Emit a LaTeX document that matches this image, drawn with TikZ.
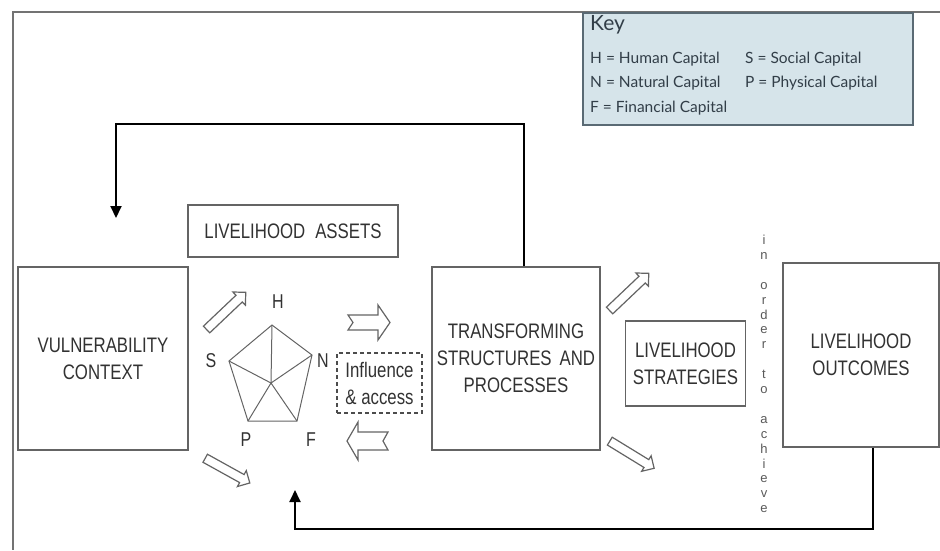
\documentclass[tikz,border=0pt]{standalone}
\usepackage{fontspec}
\setmainfont{Liberation Sans}[FakeStretch=0.8]
\newfontfamily\keyfont{Lato}
\newfontfamily\plainfont{Liberation Sans}
\usepackage{xcolor}
\usepackage{tikz}
\usetikzlibrary{arrows.meta}
\usetikzlibrary{shapes.arrows}
\definecolor{keyfill}{RGB}{214,228,234}
\definecolor{keyline}{RGB}{90,106,116}
\definecolor{keytext}{RGB}{50,62,72}
\definecolor{boxline}{RGB}{100,100,100}
\definecolor{boxtext}{RGB}{50,50,50}
\tikzset{
    tnode/.style = {align=center, inner sep=0pt, text centered},
    box/.style = {tnode, rectangle, draw=boxline, line width=1.3pt, text=boxtext, font=\fontsize{21}{27}\selectfont},
    keybox/.style = {rectangle, draw=keyline, fill=keyfill, line width=2pt},
    keyitem/.style = {anchor=base west, inner sep=0pt, text=keytext, font=\keyfont\fontsize{15.5}{18}\selectfont},
    corner/.style = {tnode, text=boxtext, font=\fontsize{20}{24}\selectfont},
    hollow/.style = {single arrow, draw=boxline, line width=1.2pt, fill=white, inner xsep=0pt, inner ysep=4pt, single arrow head extend=4.5pt},
    feedback/.style = {-{Triangle[width=11pt,length=12pt]}, draw=black, line width=2pt}
}

\begin{document}
\begin{tikzpicture}
    [x=1pt, y=-1pt]
    \useasboundingbox (0,0) rectangle (940,550);

    % frame
    \draw[black!55, line width=1.5pt] (940,12) -- (13,12) -- (13,550);

    % key
    \node[keybox, minimum width=330pt, minimum height=112pt] (key) at (748,69) {};
    \node[keyitem, font=\keyfont\fontsize{21}{24}\selectfont] (keyhead) at (590,30) {Key};
    \node[keyitem] (kh) at (590,63) {H = Human Capital};
    \node[keyitem] (ks) at (745,63) {S = Social Capital};
    \node[keyitem] (kn) at (590,87) {N = Natural Capital};
    \node[keyitem] (kp) at (745,87) {P = Physical Capital};
    \node[keyitem] (kf) at (590,112) {F = Financial Capital};

    % boxes
    \node[box, minimum width=170pt, minimum height=183pt] (vuln) at (103,358.5) {VULNERABILITY\\CONTEXT};
    \node[box, minimum width=210pt, minimum height=52pt] (assets) at (293,231) {LIVELIHOOD\hspace{10pt}ASSETS};
    \node[box, minimum width=168pt, minimum height=183pt] (trans) at (516,358.5) {TRANSFORMING\\STRUCTURES\hspace{8pt}AND\\PROCESSES};
    \node[box, minimum width=120pt, minimum height=85pt] (strat) at (685.5,363.5) {LIVELIHOOD\\STRATEGIES};
    \node[box, minimum width=156pt, minimum height=184pt] (outc) at (861,355) {LIVELIHOOD\\OUTCOMES};
    \node[box, draw=black!70, dash pattern=on 4pt off 3pt, minimum width=85pt, minimum height=60pt] (infl) at (379.5,383) {Influence\\\& access};

    % asset pentagon
    \coordinate (H) at (272,325);
    \coordinate (N) at (312,355);
    \coordinate (F) at (297,421);
    \coordinate (P) at (248,421);
    \coordinate (S) at (229,361);
    \coordinate (ctr) at (271,383);
    \draw[boxline, line width=1pt] (H) -- (N) -- (F) -- (P) -- (S) -- cycle;
    \foreach \v in {H,N,F,P,S}
        \draw[boxline, line width=1pt] (ctr) -- (\v);
    \node[corner] (lh) at (278,302) {H};
    \node[corner] (ln) at (323,361) {N};
    \node[corner] (lf) at (311,440) {F};
    \node[corner] (lp) at (246,440) {P};
    \node[corner] (ls) at (211,361) {S};

    % hollow arrows
    \node[hollow, rotate=43.5, minimum height=54pt] (a1) at (224.5,312.5) {};
    \node[hollow, rotate=-29, minimum height=51pt] (a2) at (225.5,469.5) {};
    \node[hollow, rotate=43.5, minimum height=54pt] (a3) at (627.5,293.5) {};
    \node[hollow, rotate=-31.5, minimum height=52pt] (a4) at (630,453.5) {};
    \draw[boxline, line width=1.2pt] (348,315) -- ++(30,0) -- ++(0,-10) -- (390,322.5) -- (378,340) -- ++(0,-10) -- (348,330) -- ++(5,-7.5) -- cycle;
    \draw[boxline, line width=1.2pt] (347,441) -- (358,422) -- (358,432) -- (388,432) -- (383,441) -- (388,450) -- (358,450) -- (358,460) -- cycle;

    \node[tnode, text=black!65, font=\plainfont\fontsize{13}{14.9}\selectfont] (aim) at (764,374)
        {i\\n\\[14.9pt]o\\r\\d\\e\\r\\[14.9pt]t\\o\\[14.9pt]a\\c\\h\\i\\e\\v\\e};

    % feedback loops
    \coordinate (ttip) at (116,218);
    \coordinate (btip) at (295,490);
    \draw[feedback] ([xshift=8pt]trans.north) -- ++(0,-142) -| (ttip);
    \draw[feedback] ([xshift=12pt]outc.south) -- ++(0,81) -| (btip);
\end{tikzpicture}
\end{document}
